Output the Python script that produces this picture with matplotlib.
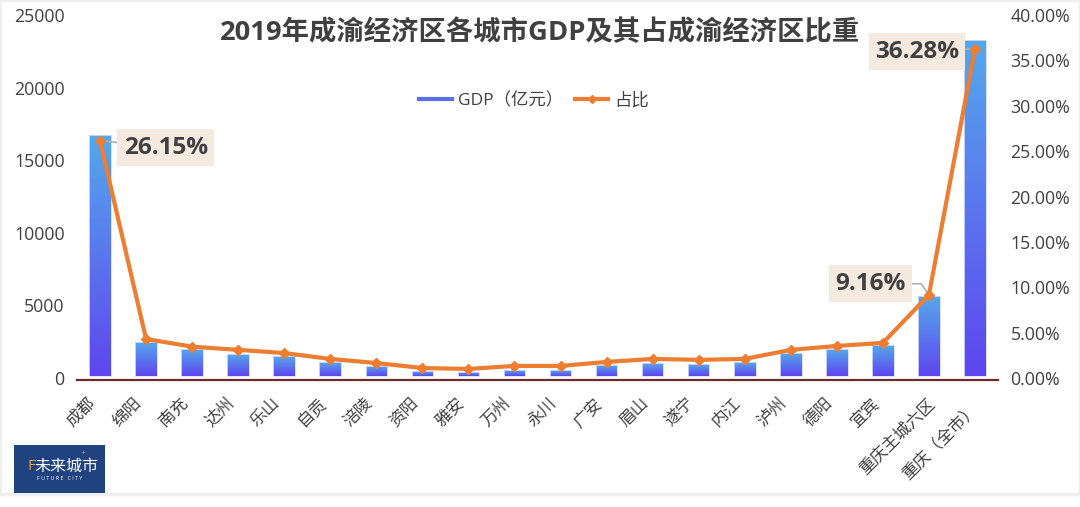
import matplotlib
matplotlib.use("Agg")
import matplotlib.pyplot as plt
import numpy as np
from matplotlib.lines import Line2D
from matplotlib.patches import Rectangle
from matplotlib.colors import LinearSegmentedColormap
from matplotlib.transforms import ScaledTranslation

plt.rcParams['font.family'] = ['Open Sans', 'Noto Sans CJK SC', 'DejaVu Sans']

cities = ["成都", "绵阳", "南充", "达州", "乐山", "自贡", "涪陵", "资阳", "雅安", "万州",
          "永川", "广安", "眉山", "遂宁", "内江", "泸州", "德阳", "宜宾", "重庆主城六区", "重庆（全市）"]
gdp = [16710, 2490, 2000, 1660, 1520, 1100, 830, 480, 410, 550,
       550, 900, 1040, 970, 1100, 1730, 2000, 2280, 5660, 23270]
share = [26.15, 4.3, 3.45, 3.1, 2.75, 2.1, 1.65, 1.1, 1.0, 1.33,
         1.33, 1.77, 2.1, 2.0, 2.1, 3.1, 3.53, 3.87, 9.16, 36.28]
left_ticks = [0, 5000, 10000, 15000, 20000, 25000]
right_ticks = [0, 5, 10, 15, 20, 25, 30, 35, 40]

W, H = 1080, 507
text_c = "#404040"
orange = "#ED7D31"
grad = LinearSegmentedColormap.from_list("bar", ["#5E45EE", "#55A8EC"])
bar_base = 140  # bars float a little above the axis line in the reference

fig = plt.figure(figsize=(W / 100, H / 100), dpi=100, facecolor="white")
# light frame of the screenshot
fig.patches.append(Rectangle((0, (H - 494) / H), 1, 494 / H, transform=fig.transFigure,
                             fc="none", ec="#efefef", lw=2.5))

ax = fig.add_axes([77 / W, (H - 378) / H, 921 / W, 363 / H])
x = np.arange(len(cities))
bars = ax.bar(x, np.array(gdp) - bar_base, bottom=bar_base, width=0.47, color="none",
              edgecolor="#d5dcfb", lw=0.6, zorder=3)
g = np.linspace(0, 1, 128)[:-1].reshape(-1, 1)
for b in bars:
    ys = np.linspace(b.get_y(), b.get_y() + b.get_height(), 128)
    ax.pcolormesh([b.get_x(), b.get_x() + b.get_width()], ys, g, cmap=grad, vmin=0, vmax=1,
                  zorder=2, rasterized=False, antialiased=False, shading="flat")
ax.set_xlim(-0.5, len(cities) - 0.5)
ax.set_ylim(0, 25000)
ax.set_yticks(left_ticks)
ax.set_xticks(x)
ax.set_xticklabels(cities)
ax.tick_params(axis="both", length=0, labelcolor=text_c)
ax.tick_params(axis="y", labelsize=12.8, pad=9)
ax.tick_params(axis="x", labelsize=12, pad=11)
for s in ["top", "left", "right"]:
    ax.spines[s].set_visible(False)
ax.spines["bottom"].set_position(("outward", 1.5))
ax.spines["bottom"].set_color("#6B2C2C")
ax.spines["bottom"].set_linewidth(1.6)

ax2 = ax.twinx()
ax2.plot(x, share, color=orange, lw=3, marker="D", ms=5.5, zorder=5)
ax2.set_ylim(0, 40)
ax2.set_yticks(right_ticks)
ax2.set_yticklabels(["%.2f%%" % t for t in right_ticks])
ax2.tick_params(axis="y", length=0, labelsize=12.8, labelcolor=text_c, pad=9)
for s in ["top", "left", "right", "bottom"]:
    ax2.spines[s].set_visible(False)

# callouts
box = dict(boxstyle="square,pad=0.26", fc="#F4EADF", ec="none")
line = dict(arrowstyle="-", color="#b0b0b0", lw=1.2, shrinkA=0, shrinkB=0)
for i, off, ha, conn in [(0, (17, -5), "left", "arc3"),
                         (19, (-11.5, -2), "right", "arc3"),
                         (18, (-17, 8), "right", "angle,angleA=0,angleB=125,rad=0")]:
    ax2.annotate("%.2f%%" % share[i], (x[i], share[i]), xytext=off, textcoords="offset points",
                 ha=ha, va="center", fontsize=17.5, fontweight="bold", color=text_c, bbox=box,
                 arrowprops=dict(line, connectionstyle=conn), zorder=4)

handles = [Line2D([], [], color="#5B6EE8", lw=3),
           Line2D([], [], color=orange, lw=3, marker="D", ms=4.5)]
ax2.legend(handles, ["GDP（亿元）", "占比"], loc="center", bbox_to_anchor=(534 / W, (H - 101) / H),
           bbox_transform=fig.transFigure, frameon=False, ncol=2, fontsize=12.5, labelcolor=text_c,
           handlelength=1.9, columnspacing=0.7, handletextpad=0.35)

fig.text(540 / W, (H - 33) / H, "2019年成渝经济区各城市GDP及其占成渝经济区比重", ha="center", va="center",
         fontsize=19.7, fontweight="bold", color=text_c)

# rotate last, the twin axes call resets the tick label text
labels = ax.get_xticklabels()
plt.setp(labels, rotation=45, ha="right", va="top", rotation_mode="anchor")
for i, lab in enumerate(labels):
    dx = -12 / 100
    dy = 0
    if i == 18:
        dx = -2 / 100
    if i == 19:
        dx, dy = -5 / 100, -5 / 100
    lab.set_transform(lab.get_transform() + ScaledTranslation(dx, dy, fig.dpi_scale_trans))

# logo
fig.patches.append(Rectangle((14 / W, (H - 493) / H), 91 / W, 48 / H, transform=fig.transFigure,
                             fc="#20427F", ec="none"))
fig.text(66 / W, (H - 467) / H, "未来城市", ha="center", va="center", fontsize=11.5, color="white")
fig.text(31 / W, (H - 467) / H, "F", ha="center", va="center", fontsize=11, color="#E5A23C")
fig.text(83 / W, (H - 454) / H, "+", ha="center", va="center", fontsize=6, color="#E5A23C")
fig.text(60 / W, (H - 479) / H, "F U T U R E   C I T Y", ha="center", va="center", fontsize=3.8, color="white")

fig.savefig("out.png", dpi=100, facecolor="white")
